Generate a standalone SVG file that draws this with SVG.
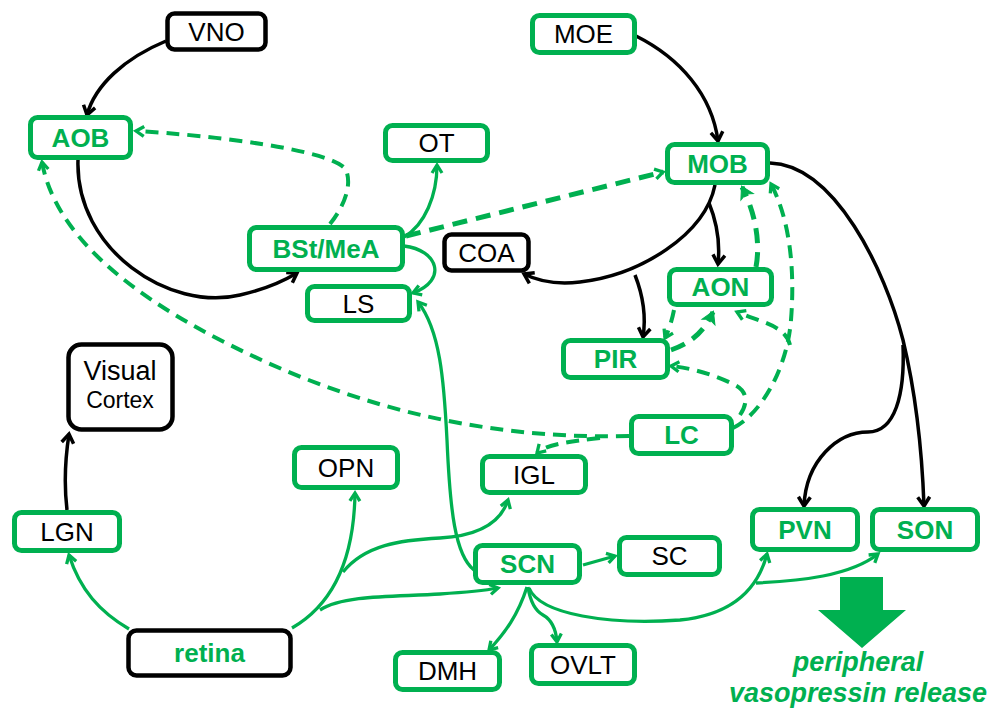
<svg xmlns="http://www.w3.org/2000/svg" width="992" height="710" viewBox="0 0 992 710">
<defs>
<style>
.bg{fill:#fff}
.gb rect{fill:#fff;stroke:#00B050;stroke-width:5}
.kb rect{fill:#fff;stroke:#000;stroke-width:4.5}
text{font-family:"Liberation Sans",Arial,sans-serif;font-size:26px;text-anchor:middle}
.t{fill:#000}
.b{fill:#00B050;font-weight:bold}
.k{fill:none;stroke:#000;stroke-width:3.5}
.g{fill:none;stroke:#00B050;stroke-width:3.3}
.d{fill:none;stroke:#00B050;stroke-width:4;stroke-dasharray:13 8}
.dt{fill:none;stroke:#00B050;stroke-width:5;stroke-dasharray:15 9}
</style>
<marker id="ak" markerWidth="16" markerHeight="16" refX="12" refY="8" orient="auto" markerUnits="userSpaceOnUse"><path d="M3,2 L12,8 L3,14" fill="none" stroke="#000" stroke-width="3.5"/></marker>
<marker id="ag" markerWidth="16" markerHeight="16" refX="12" refY="8" orient="auto" markerUnits="userSpaceOnUse"><path d="M4,3 L12,8 L4,13" fill="none" stroke="#00B050" stroke-width="3.3"/></marker>
<marker id="af" markerWidth="18" markerHeight="18" refX="13" refY="9" orient="auto" markerUnits="userSpaceOnUse"><path d="M2,2 L14,9 L2,16 L5,9 Z" fill="#00B050" stroke="#00B050" stroke-width="1"/></marker>
</defs>
<rect class="bg" x="0" y="0" width="992" height="710"/>
<g id="connectors">
<path class="k" d="M166,41 C125,58 95,85 87,115" marker-end="url(#ak)"/>
<path class="k" d="M78,160 C75,250 170,312 240,295 C262,290 282,282 297,273" marker-end="url(#ak)"/>
<path class="k" d="M636,36 C680,58 712,95 718,141" marker-end="url(#ak)"/>
<path class="k" d="M715,185 C705,235 640,275 580,282 C555,285 538,281 524,274" marker-end="url(#ak)"/>
<path class="k" d="M709,203 C718,225 720,245 718,264" marker-end="url(#ak)"/>
<path class="k" d="M635,275 C644,298 646,318 643,337" marker-end="url(#ak)"/>
<path class="k" d="M770,163 C835,165 885,270 903,340 C915,390 922,450 924,506" marker-end="url(#ak)"/>
<path class="k" d="M903,345 C905,395 895,432 868,432 C838,432 806,460 804,506" marker-end="url(#ak)"/>
<path class="k" d="M67,510 C64,485 65,460 69,434" marker-end="url(#ak)"/>
<path class="g" d="M404,237 C425,225 437,195 437,165" marker-end="url(#ag)"/>
<path class="g" d="M404,246 C438,250 448,280 413,293" marker-end="url(#ag)"/>
<path class="g" d="M474,570 C455,555 450,510 447,440 C444,380 440,330 418,302" marker-end="url(#ag)"/>
<path class="g" d="M129,629 C100,612 80,590 69,555" marker-end="url(#ag)"/>
<path class="g" d="M292,628 C332,605 354,560 355,493" marker-end="url(#ag)"/>
<path class="g" d="M343,572 C365,545 400,540 440,538 C475,536 500,525 508,500" marker-end="url(#ag)"/>
<path class="g" d="M320,610 C345,594 400,597 440,594 C470,592 487,590 498,588" marker-end="url(#ag)"/>
<path class="g" d="M583,565 L615,556" marker-end="url(#ag)"/>
<path class="g" d="M527,587 C518,615 505,633 489,650" marker-end="url(#ag)"/>
<path class="g" d="M528,587 C530,600 534,610 543,615 C552,620 556,630 557,642" marker-end="url(#ag)"/>
<path class="g" d="M529,588 C540,615 610,625 680,620 C730,615 757,592 767,554" marker-end="url(#ag)"/>
<path class="g" d="M756,583 C800,581 850,576 878,554" marker-end="url(#ag)"/>
<path class="d" d="M330,224 C345,205 352,185 346,170 C335,150 210,135 136,131" marker-end="url(#ag)"/>
<path class="d" d="M629,436 C470,440 340,400 230,345 C130,295 55,235 42,162" marker-end="url(#ag)"/>
<path class="d" d="M600,438 C570,441 545,445 537,453" marker-end="url(#ag)"/>
<path class="dt" d="M406,236 L663,172" marker-end="url(#ag)"/>
<path class="dt" d="M756,267 C761,240 754,210 742,187" marker-end="url(#af)"/>
<path class="d" d="M733,428 C760,415 787,370 791,320 C795,270 790,220 771,184" marker-end="url(#ag)"/>
<path class="d" d="M790,345 C785,325 760,322 737,312" marker-end="url(#ag)"/>
<path class="d" d="M740,415 C750,400 745,390 735,385 C715,375 692,368 671,366" marker-end="url(#ag)"/>
<path class="d" d="M674,310 C672,320 669,330 665,338" marker-end="url(#ag)"/>
<path class="dt" d="M671,350 C692,343 705,330 713,312" marker-end="url(#af)"/>
</g>
<g id="n-VNO" class="kb"><rect x="167.5" y="13.5" width="98" height="36" rx="7"/><text class="t" x="216.5" y="41">VNO</text></g>
<g id="n-AOB" class="gb"><rect x="30.5" y="117.5" width="100" height="40" rx="7"/><text class="b" x="80.5" y="147">AOB</text></g>
<g id="n-OT" class="gb"><rect x="385.5" y="125.5" width="102" height="35" rx="7"/><text class="t" x="436.5" y="152">OT</text></g>
<g id="n-BSt" class="gb"><rect x="249.5" y="227.5" width="153" height="42" rx="7"/><text class="b" x="326" y="258">BSt/MeA</text></g>
<g id="n-LS" class="gb"><rect x="307.5" y="286.5" width="102" height="34" rx="7"/><text class="t" x="358.5" y="313">LS</text></g>
<g id="n-MOE" class="gb"><rect x="532.5" y="15.5" width="102" height="37" rx="7"/><text class="t" x="583.5" y="43">MOE</text></g>
<g id="n-MOB" class="gb"><rect x="667.5" y="144.5" width="100" height="38" rx="7"/><text class="b" x="717.5" y="173">MOB</text></g>
<g id="n-COA" class="kb"><rect x="444.5" y="234.5" width="84" height="36" rx="7"/><text class="t" x="486.5" y="262">COA</text></g>
<g id="n-AON" class="gb"><rect x="669.5" y="269.5" width="102" height="35" rx="7"/><text class="b" x="720.5" y="296">AON</text></g>
<g id="n-PIR" class="gb"><rect x="563.5" y="340.5" width="104" height="37" rx="7"/><text class="b" x="615.5" y="368">PIR</text></g>
<g id="n-LC" class="gb"><rect x="631.5" y="416.5" width="100" height="37" rx="7"/><text class="b" x="681.5" y="444">LC</text></g>
<g id="n-VC" class="kb"><rect x="68.5" y="344.5" width="104" height="85" rx="13"/><text class="t" x="120" y="380" style="font-size:27px">Visual</text><text class="t" x="120" y="408" style="font-size:23px">Cortex</text></g>
<g id="n-OPN" class="gb"><rect x="294.5" y="447.5" width="103" height="40" rx="7"/><text class="t" x="346" y="477">OPN</text></g>
<g id="n-IGL" class="gb"><rect x="482.5" y="456.5" width="103" height="36" rx="7"/><text class="t" x="534" y="484">IGL</text></g>
<g id="n-LGN" class="gb"><rect x="14.5" y="512.5" width="105" height="38" rx="7"/><text class="t" x="67" y="541">LGN</text></g>
<g id="n-SCN" class="gb"><rect x="475.5" y="545.5" width="104" height="37" rx="7"/><text class="b" x="527.5" y="573">SCN</text></g>
<g id="n-SC" class="gb"><rect x="619.5" y="537.5" width="100" height="37" rx="7"/><text class="t" x="669.5" y="565">SC</text></g>
<g id="n-PVN" class="gb"><rect x="752.5" y="509.5" width="105" height="40" rx="7"/><text class="b" x="805" y="539">PVN</text></g>
<g id="n-SON" class="gb"><rect x="872.5" y="509.5" width="105" height="40" rx="7"/><text class="b" x="925" y="539">SON</text></g>
<g id="n-retina" class="kb"><rect x="128.5" y="630.5" width="162" height="45" rx="8"/><text class="b" x="209.5" y="662">retina</text></g>
<g id="n-DMH" class="gb"><rect x="395.5" y="652.5" width="104" height="37" rx="7"/><text class="t" x="447.5" y="680">DMH</text></g>
<g id="n-OVLT" class="gb"><rect x="531.5" y="645.5" width="103" height="38" rx="7"/><text class="t" x="583" y="674">OVLT</text></g>
<g id="release">
<polygon points="840,577 883,577 883,610 906,610 862,648 818,610 840,610" fill="#00B050"/>
<text class="b" x="858" y="671" style="font-style:italic;font-size:27px">peripheral</text>
<text class="b" x="858" y="702" style="font-style:italic;font-size:27px">vasopressin release</text>
</g>
</svg>
